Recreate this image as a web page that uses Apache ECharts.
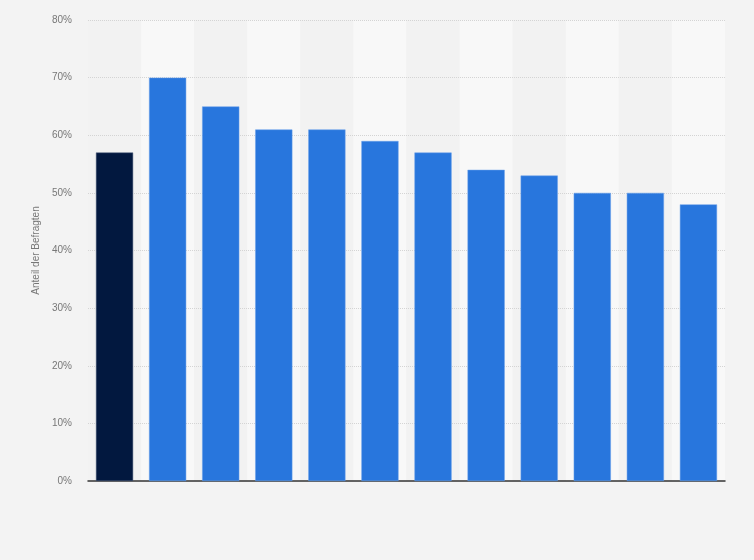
<!DOCTYPE html>
<html>
<head>
<meta charset="utf-8">
<script src="https://cdn.jsdelivr.net/npm/echarts@6/dist/echarts.min.js"></script>
<style>
  html, body { margin: 0; padding: 0; background: #f3f3f3; }
  #chart { width: 754px; height: 560px; }
</style>
</head>
<body>
<div id="chart"></div>
<script>
// Kategorien ohne sichtbare Beschriftung
const categories = ['1', '2', '3', '4', '5', '6', '7', '8', '9', '10', '11', '12'];
const values = [57, 70, 65, 61, 61, 59, 57, 54, 53, 50, 50, 48];
const yTicks = [0, 10, 20, 30, 40, 50, 60, 70, 80];

const chart = echarts.init(document.getElementById('chart'), null, { renderer: 'canvas' });

chart.setOption({
    backgroundColor: '#f3f3f3',
    animation: false,
    grid: { left: 88, right: 29, top: 20, bottom: 79 },
    xAxis: {
        type: 'category',
        z: 0,
        data: categories,
        axisLine: { show: true, lineStyle: { color: '#333', width: 1.5 } },
        axisTick: { show: false },
        axisLabel: { show: false },
        splitArea: { show: true, areaStyle: { color: ['#f2f2f2', '#f8f8f8'] } }
    },
    yAxis: {
        type: 'value',
        z: 1,
        min: yTicks[0],
        max: yTicks[yTicks.length - 1],
        interval: 10,
        name: 'Anteil der Befragten',
        nameLocation: 'middle',
        nameGap: 45,
        nameTextStyle: { color: '#777', fontSize: 10, fontFamily: 'Arial, Liberation Sans, sans-serif' },
        axisLine: { show: false },
        axisTick: { show: false },
        axisLabel: {
            color: '#777',
            fontSize: 10,
            fontFamily: 'Arial, Liberation Sans, sans-serif',
            margin: 16,
            formatter: '{value}%'
        },
        splitLine: { showMinLine: false, lineStyle: { color: '#d4d4d4', type: [1, 1] } }
    },
    series: [{
        type: 'bar',
        z: 2,
        barWidth: '70%',
        data: values.map(function (v, i) {
            return {
                value: v,
                itemStyle: i === 0
                    ? { color: '#02183f', borderColor: '#4a5a78', borderWidth: 0.5 }
                    : { color: '#2876dd', borderColor: '#6aa0ea', borderWidth: 0.5 }
            };
        })
    }]
});
</script>
</body>
</html>
